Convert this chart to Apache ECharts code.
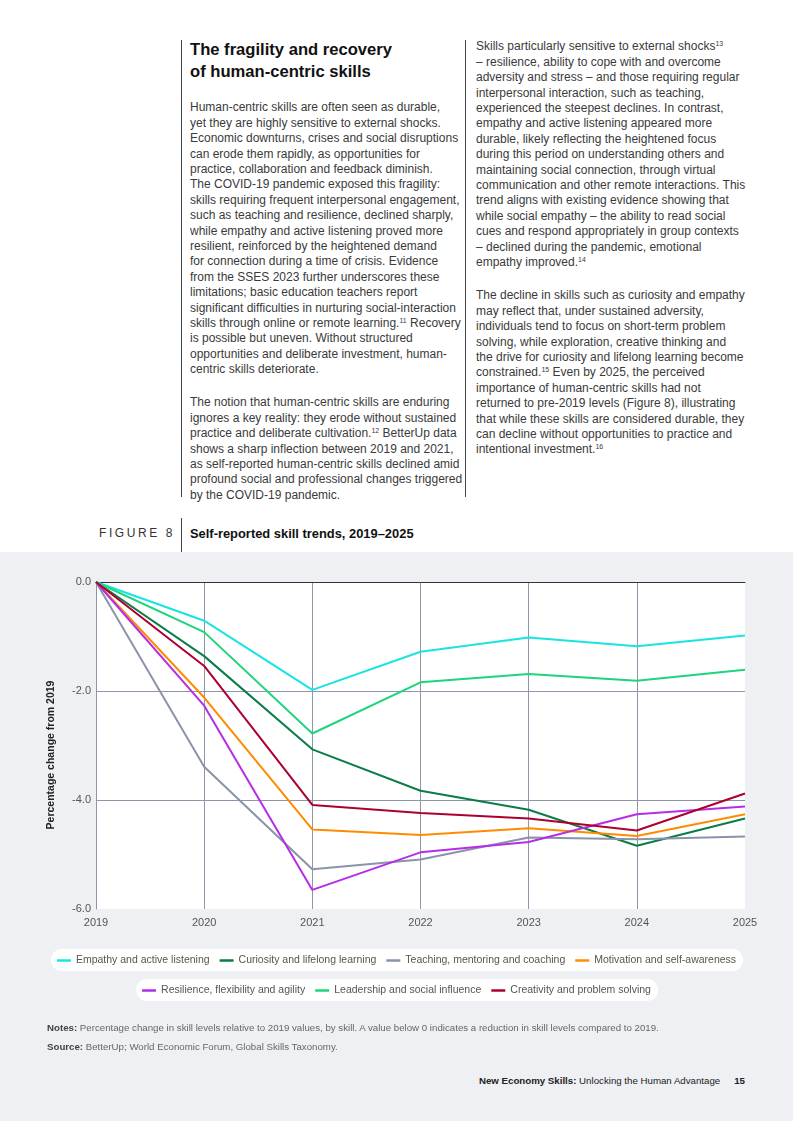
<!DOCTYPE html>
<html>
<head>
<meta charset="utf-8">
<script src="https://cdn.jsdelivr.net/npm/echarts@6/dist/echarts.min.js"></script>
<style>
  html, body { margin: 0; padding: 0; }
  body { width: 793px; height: 1121px; position: relative; background: #ffffff; font-family: "Liberation Sans", Arial, Helvetica, sans-serif; overflow: hidden; }
  .abs { position: absolute; }
  .rule { position: absolute; width: 1px; background: #444; }
  .title { font-weight: bold; font-size: 16.6px; line-height: 22px; color: #111; }
  .body { font-size: 12px; line-height: 15.4px; color: #3a3a3a; white-space: nowrap; }
  sup { font-size: 7px; vertical-align: 4px; line-height: 0; }
  #band { position: absolute; left: 0; top: 552px; width: 793px; height: 569px; background: #eff0f4; }
  #chart { position: absolute; left: 0; top: 552px; width: 793px; height: 470px; }
  .notes { font-size: 9.7px; line-height: 19px; color: #666; white-space: nowrap; }
  .notes b { color: #444; }
  .footer { font-size: 9.7px; color: #222; white-space: nowrap; }
</style>
</head>
<body>
<div id="band"></div>

<div class="rule" style="left:181px; top:40px; height:457px;"></div>
<div class="rule" style="left:465px; top:40px; height:457px;"></div>

<div class="abs title" style="left:190px; top:39px;">The fragility and recovery<br>of human-centric skills</div>

<div class="abs body" style="left:190px; top:100.3px;">
Human-centric skills are often seen as durable,<br>
yet they are highly sensitive to external shocks.<br>
Economic downturns, crises and social disruptions<br>
can erode them rapidly, as opportunities for<br>
practice, collaboration and feedback diminish.<br>
The COVID-19 pandemic exposed this fragility:<br>
skills requiring frequent interpersonal engagement,<br>
such as teaching and resilience, declined sharply,<br>
while empathy and active listening proved more<br>
resilient, reinforced by the heightened demand<br>
for connection during a time of crisis. Evidence<br>
from the SSES 2023 further underscores these<br>
limitations; basic education teachers report<br>
significant difficulties in nurturing social-interaction<br>
skills through online or remote learning.<sup>11</sup> Recovery<br>
is possible but uneven. Without structured<br>
opportunities and deliberate investment, human-<br>
centric skills deteriorate.
</div>

<div class="abs body" style="left:190px; top:395.3px;">
The notion that human-centric skills are enduring<br>
ignores a key reality: they erode without sustained<br>
practice and deliberate cultivation.<sup>12</sup> BetterUp data<br>
shows a sharp inflection between 2019 and 2021,<br>
as self-reported human-centric skills declined amid<br>
profound social and professional changes triggered<br>
by the COVID-19 pandemic.
</div>

<div class="abs body" style="left:476px; top:39.3px;">
Skills particularly sensitive to external shocks<sup>13</sup><br>
– resilience, ability to cope with and overcome<br>
adversity and stress – and those requiring regular<br>
interpersonal interaction, such as teaching,<br>
experienced the steepest declines. In contrast,<br>
empathy and active listening appeared more<br>
durable, likely reflecting the heightened focus<br>
during this period on understanding others and<br>
maintaining social connection, through virtual<br>
communication and other remote interactions. This<br>
trend aligns with existing evidence showing that<br>
while social empathy – the ability to read social<br>
cues and respond appropriately in group contexts<br>
– declined during the pandemic, emotional<br>
empathy improved.<sup>14</sup>
</div>

<div class="abs body" style="left:476px; top:288.3px;">
The decline in skills such as curiosity and empathy<br>
may reflect that, under sustained adversity,<br>
individuals tend to focus on short-term problem<br>
solving, while exploration, creative thinking and<br>
the drive for curiosity and lifelong learning become<br>
constrained.<sup>15</sup> Even by 2025, the perceived<br>
importance of human-centric skills had not<br>
returned to pre-2019 levels (Figure 8), illustrating<br>
that while these skills are considered durable, they<br>
can decline without opportunities to practice and<br>
intentional investment.<sup>16</sup>
</div>

<div class="rule" style="left:181px; top:518px; height:34px;"></div>
<div class="abs" style="left:99px; top:526px; font-size:12px; line-height:15px; letter-spacing:2.6px; color:#333;">FIGURE 8</div>
<div class="abs" style="left:190px; top:525.5px; font-size:12.9px; line-height:15px; font-weight:bold; color:#111;">Self-reported skill trends, 2019–2025</div>

<div id="chart"></div>

<div class="abs notes" style="left:47px; top:1017.5px;">
<b>Notes:</b> Percentage change in skill levels relative to 2019 values, by skill. A value below 0 indicates a reduction in skill levels compared to 2019.<br>
<b>Source:</b> BetterUp; World Economic Forum, Global Skills Taxonomy.
</div>

<div class="abs footer" style="right:48px; top:1075px;"><b>New Economy Skills:</b> Unlocking the Human Advantage<span style="display:inline-block;width:14px;"></span><b>15</b></div>

<script>
// ---- Data ----
const years = ['2019', '2020', '2021', '2022', '2023', '2024', '2025'];
const yTicks = [-6, -4, -2, 0];
const yAxisTitle = 'Percentage change from 2019';

const skillNames = [
  'Empathy and active listening',
  'Curiosity and lifelong learning',
  'Teaching, mentoring and coaching',
  'Motivation and self-awareness',
  'Resilience, flexibility and agility',
  'Leadership and social influence',
  'Creativity and problem solving'
];

const empathy    = [0, -0.71, -1.98, -1.28, -1.02, -1.18, -0.98];
const curiosity  = [0, -1.36, -3.07, -3.83, -4.18, -4.84, -4.34];
const teaching   = [0, -3.39, -5.27, -5.09, -4.69, -4.72, -4.67];
const motivation = [0, -2.12, -4.54, -4.64, -4.52, -4.66, -4.26];
const resilience = [0, -2.27, -5.65, -4.96, -4.77, -4.26, -4.12];
const leadership = [0, -0.92, -2.78, -1.84, -1.69, -1.81, -1.61];
const creativity = [0, -1.54, -4.09, -4.24, -4.34, -4.56, -3.88];

const seriesValues = [empathy, curiosity, teaching, motivation, resilience, leadership, creativity];
const colors = ['#18e4e1', '#0a7d47', '#8a93a9', '#ff8c00', '#b52de6', '#1ed47c', '#ae002f'];

// ---- Chart ----
const chart = echarts.init(document.getElementById('chart'), null, { renderer: 'canvas' });

const gridColor = '#8e95a8';
const legendCommon = {
  orient: 'horizontal',
  left: 'center',
  icon: 'rect',
  itemWidth: 14,
  itemHeight: 2.5,
  itemGap: 10,
  backgroundColor: '#ffffff',
  borderRadius: 11,
  padding: [6, 7, 5, 6],
  textStyle: { fontSize: 10.5, color: '#555', fontFamily: 'Liberation Sans, Arial, sans-serif' }
};

const option = {
  animation: false,
  backgroundColor: 'transparent',
  color: colors,
  textStyle: { fontFamily: 'Liberation Sans, Arial, sans-serif' },
  grid: {
    left: 96, right: 48, top: 30, bottom: 113,
    show: true, backgroundColor: '#ffffff', borderWidth: 0
  },
  legend: [
    Object.assign({}, legendCommon, { top: 397, data: skillNames.slice(0, 4) }),
    Object.assign({}, legendCommon, { top: 427, data: skillNames.slice(4) })
  ],
  graphic: [{
    type: 'text',
    x: 51, y: 203,
    rotation: Math.PI / 2,
    style: {
      text: yAxisTitle,
      fontSize: 10.5, fontWeight: 'bold', fill: '#222',
      fontFamily: 'Liberation Sans, Arial, sans-serif',
      align: 'center', verticalAlign: 'middle'
    }
  }],
  xAxis: {
    type: 'category',
    data: years,
    boundaryGap: false,
    axisLine: { show: true, lineStyle: { color: '#333', width: 1 } },
    axisTick: { show: false },
    axisLabel: { color: '#555', fontSize: 11, margin: 8 },
    splitLine: {
      show: true, showMinLine: true, showMaxLine: false,
      lineStyle: { color: gridColor, width: 1 }
    }
  },
  yAxis: {
    type: 'value',
    min: yTicks[0],
    max: yTicks[yTicks.length - 1],
    interval: 2,
    axisLine: { show: true, lineStyle: { color: gridColor, width: 1 } },
    axisTick: { show: false },
    axisLabel: { color: '#555', fontSize: 11, margin: 5, formatter: v => v.toFixed(1) },
    splitLine: {
      show: true, showMinLine: false, showMaxLine: false,
      lineStyle: { color: gridColor, width: 1 }
    }
  },
  series: skillNames.map((name, i) => ({
    name: name,
    type: 'line',
    data: seriesValues[i],
    symbol: 'none',
    showSymbol: false,
    lineStyle: { width: 2, color: colors[i] },
    itemStyle: { color: colors[i] },
    emphasis: { disabled: true }
  }))
};

chart.setOption(option);
</script>
</body>
</html>
